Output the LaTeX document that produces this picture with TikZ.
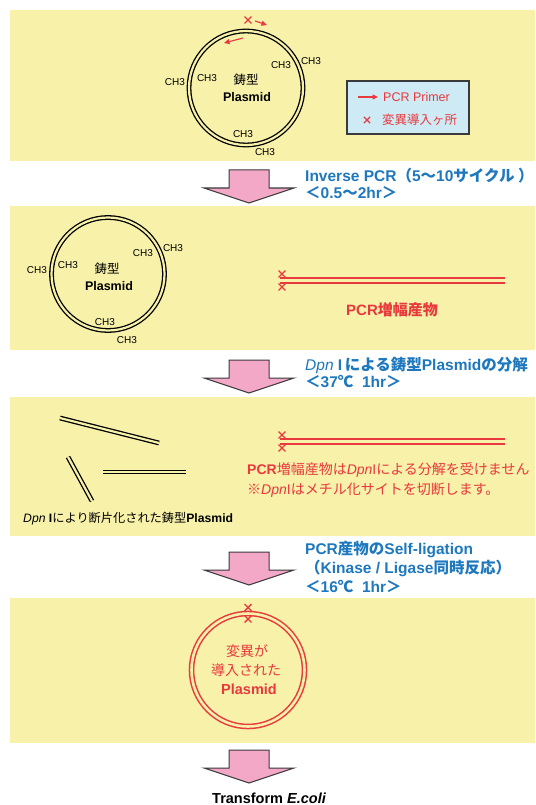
\documentclass[tikz,border=0pt]{standalone}
\usepackage{fontspec}
\setmainfont{Liberation Sans}
\newfontfamily\jp{Noto Sans CJK JP}
\usetikzlibrary{arrows.meta,shapes.misc}
\definecolor{panel}{HTML}{F7F1AA}
\definecolor{titleblue}{HTML}{1E78BE}
\definecolor{mutred}{HTML}{E8393C}
\definecolor{arrowpink}{HTML}{F2A8C6}
\definecolor{arrowedge}{HTML}{3A3A3A}
\definecolor{legendfill}{HTML}{CDEAF5}
\newcommand\fs[1]{\fontsize{#1}{#1}\selectfont}
\newcommand\jpt[1]{{\jp #1}}
\tikzset{
  panelbox/.style={fill=panel, draw=none},
  dna/.style={draw=black, line width=1.3pt, double=panel, double distance=2.2pt},
  pcrdna/.style={draw=mutred, line width=1.7pt, double=panel, double distance=3pt},
  ch/.style={font=\fs{10}, inner sep=0pt},
  title/.style={font=\fs{15.5}\bfseries, text=titleblue, anchor=base west, inner sep=0pt},
  redtext/.style={font=\fs{14}, text=mutred, inner sep=0pt},
  mutx/.style={cross out, draw=mutred, line width=1.4pt, minimum size=5.5pt, inner sep=0pt},
  bigarrow/.style={fill=arrowpink, draw=arrowedge, line width=1pt, line join=miter},
  primer/.style={draw=mutred, line width=1.1pt, -{Triangle[length=5.5pt,width=5pt]}},
  downarrow/.pic={\draw[bigarrow] (-20,0) -- (20,0) -- (20,18) -- (45,18) -- (0,33)
      -- (-45,18) -- (-20,18) -- cycle;}
}
\begin{document}
\begin{tikzpicture}[x=1pt,y=-1pt]
\useasboundingbox (0,0) rectangle (535,805);
\fill[white] (0,0) rectangle (535,805);

% step panels
\fill[panelbox] (10,10) rectangle (535,161);
\fill[panelbox] (10,206) rectangle (535,350);
\fill[panelbox] (10,397) rectangle (535,536);
\fill[panelbox] (10,598) rectangle (535,743);

% ---- template plasmid with primers ----
\draw[dna] (246,88) circle (57);
\node[font=\fs{12.5}, inner sep=0pt] (tmpl1) at (246,80) {\jpt{鋳型}};
\node[font=\fs{12.5}\bfseries, inner sep=0pt] (pl1) at (247,97) {Plasmid};
\node[ch] (c1a) at (175,82) {CH3};
\node[ch] (c1b) at (207,78) {CH3};
\node[ch] (c1c) at (281,65) {CH3};
\node[ch] (c1d) at (311,61) {CH3};
\node[ch] (c1e) at (243,134) {CH3};
\node[ch] (c1f) at (265,152) {CH3};
\node[mutx] (px) at (248,20) {};
\coordinate (pfa) at (255,21);
\coordinate (pfb) at (267,25);
\draw[primer] (pfa) -- (pfb);
\coordinate (pra) at (243,38);
\coordinate (prb) at (224,43);
\draw[primer] (pra) -- (prb);

% legend
\node[draw=arrowedge, line width=1.1pt, fill=legendfill, minimum width=122pt,
      minimum height=53pt, inner sep=0pt] (legend) at (408,107.5) {};
\coordinate (lga) at (358,97);
\coordinate (lgb) at (378,97);
\draw[primer] (lga) -- (lgb);
\node[font=\fs{12.5}, text=mutred, anchor=west, inner sep=0pt] (lgt1) at (383,97) {PCR Primer};
\node[mutx, line width=1.2pt, minimum size=5pt] (lgx) at (367,120) {};
\node[font=\fs{12.5}, text=mutred, anchor=west, inner sep=0pt] (lgt2) at (382,120) {\jpt{変異導入ヶ所}};

% ---- step 1 ----
\pic at (249,170) {downarrow};
\node[title] (t1a) at (305,182) {Inverse PCR\jpt{（}5\jpt{～}10\jpt{サイクル ）}};
\node[title] (t1b) at (305,198) {\jpt{＜}0.5\jpt{～}2hr\jpt{＞}};

% ---- panel 2 ----
\draw[dna] (108,274) circle (56.5);
\node[font=\fs{12.5}, inner sep=0pt] (tmpl2) at (107,269) {\jpt{鋳型}};
\node[font=\fs{12.5}\bfseries, inner sep=0pt] (pl2) at (109,286) {Plasmid};
\node[ch] (c2a) at (37,270) {CH3};
\node[ch] (c2b) at (68,265) {CH3};
\node[ch] (c2c) at (143,253) {CH3};
\node[ch] (c2d) at (173,248) {CH3};
\node[ch] (c2e) at (105,322) {CH3};
\node[ch] (c2f) at (127,340) {CH3};
\coordinate (p2a) at (280,280.5);
\coordinate (p2b) at (505,280.5);
\draw[pcrdna] (p2a) -- (p2b);
\node[mutx] (x2a) at (282,274) {};
\node[mutx] (x2b) at (282,287) {};
\node[redtext, font=\fs{15}\bfseries] (prod2) at (392,310) {PCR\jpt{増幅産物}};

% ---- step 2 ----
\pic at (249,360) {downarrow};
\node[title] (t2a) at (305,370) {\textit{\mdseries Dpn} I\,\jpt{による鋳型}Plasmid\jpt{の分解}};
\node[title] (t2b) at (305,387) {\jpt{＜}37\jpt{℃}\ \ 1hr\jpt{＞}};

% ---- panel 3 ----
\coordinate (f1a) at (60,418);
\coordinate (f1b) at (159,443);
\draw[dna] (f1a) -- (f1b);
\coordinate (f2a) at (68,457);
\coordinate (f2b) at (92,501);
\draw[dna] (f2a) -- (f2b);
\coordinate (f3a) at (103,472);
\coordinate (f3b) at (186,472);
\draw[dna] (f3a) -- (f3b);
\node[font=\fs{12.2}, anchor=west, inner sep=0pt] (frag) at (23,519)
  {\textit{Dpn} \textbf{I}\jpt{により断片化された鋳型}\textbf{Plasmid}};
\coordinate (p3a) at (280,441.5);
\coordinate (p3b) at (505,441.5);
\draw[pcrdna] (p3a) -- (p3b);
\node[mutx] (x3a) at (282,435) {};
\node[mutx] (x3b) at (282,448) {};
\node[redtext, anchor=west] (n3a) at (247,470)
  {\textbf{PCR}\jpt{増幅産物は}\textit{Dpn}I\jpt{による分解を受けません}};
\node[redtext, anchor=west] (n3b) at (247,490)
  {\jpt{※}\textit{Dpn}I\jpt{はメチル化サイトを切断します。}};

% ---- step 3 ----
\pic at (249,552) {downarrow};
\node[title] (t3a) at (305,554) {PCR\jpt{産物の}Self-ligation};
\node[title] (t3b) at (305,573) {\jpt{（}Kinase / Ligase\jpt{同時反応）}};
\node[title] (t3c) at (305,592) {\jpt{＜}16\jpt{℃}\ \ 1hr\jpt{＞}};

% ---- panel 4: mutated plasmid ----
\draw[pcrdna, line width=1.5pt, double distance=2.6pt] (248,670) circle (56.5);
\node[mutx] (x4a) at (248,607.5) {};
\node[mutx] (x4b) at (248,619) {};
\node[redtext] (m4a) at (247,651) {\jpt{変異が}};
\node[redtext] (m4b) at (246,670) {\jpt{導入された}};
\node[redtext, font=\fs{14.5}\bfseries] (m4c) at (249,689) {Plasmid};

% ---- step 4 ----
\pic at (249,750) {downarrow};
\node[font=\fs{14.5}\bfseries, anchor=base west, inner sep=0pt] (final) at (212,803)
  {Transform \textit{E.coli}};
\end{tikzpicture}
\end{document}
